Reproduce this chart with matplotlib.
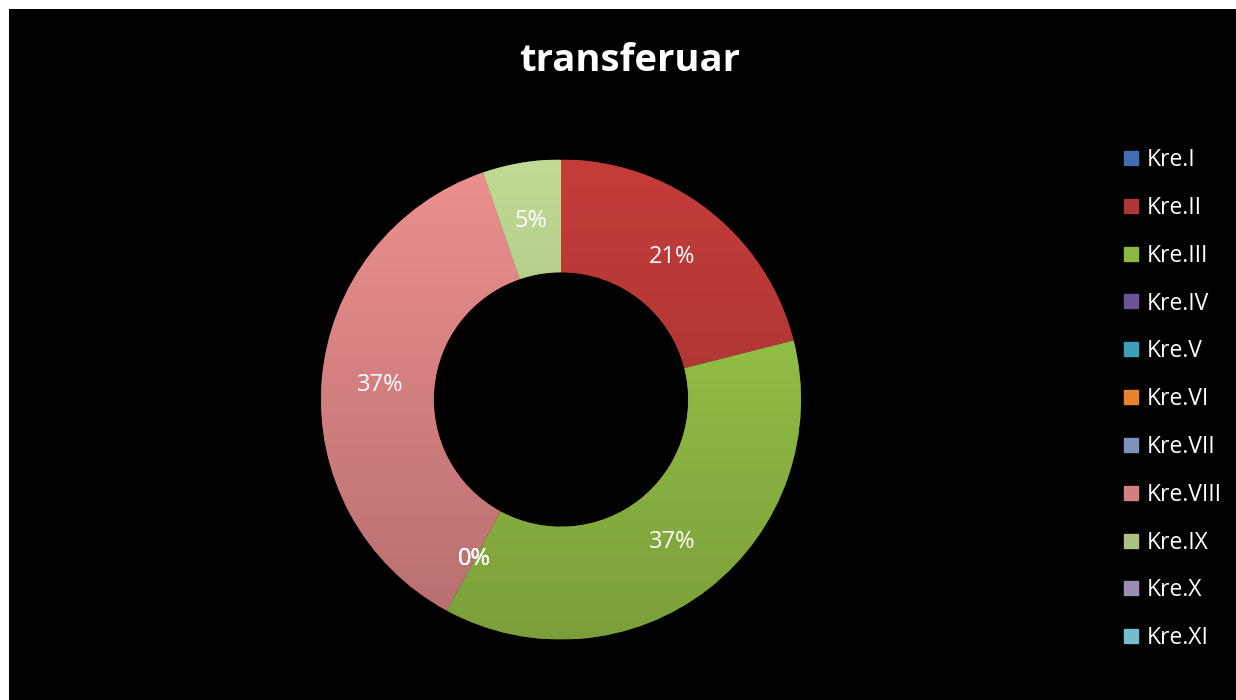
import matplotlib
matplotlib.use("Agg")
import matplotlib.pyplot as plt
from matplotlib.patches import Rectangle
from matplotlib.lines import Line2D
from matplotlib.colors import to_rgb
import numpy as np

# ---- data ----
title = "transferuar"
categories = ["Kre.I", "Kre.II", "Kre.III", "Kre.IV", "Kre.V", "Kre.VI",
              "Kre.VII", "Kre.VIII", "Kre.IX", "Kre.X", "Kre.XI"]
values = [None, 4, 7, 0, 0, 0, 0, 7, 1, None, None]
colors = ["#3E6FB0", "#AE3634", "#8DB743", "#6E5296", "#3AA0BA", "#E8822E",
          "#7F92BC", "#D27F7F", "#ABC283", "#9C8DB6", "#74BCCF"]

W, H = 1236, 700
fig = plt.figure(figsize=(W / 100, H / 100), dpi=100, facecolor="white")
fig.patches.append(Rectangle((9 / W, 0), 1, 1 - 9 / H, transform=fig.transFigure,
                             facecolor="black", edgecolor="none", zorder=-10))

cx, cy, R = 561, 399.5, 240
ax = fig.add_axes([(cx - R) / W, (H - cy - R) / H, 2 * R / W, 2 * R / H])
ax.set_facecolor("none")

vals = [0 if v is None else v for v in values]
wedges, _ = ax.pie(vals, colors=colors, startangle=90, counterclock=False,
                   radius=1, wedgeprops=dict(width=0.47, edgecolor=(0, 0, 0, 0.3), linewidth=1))

# vertical shading (lighter at top, darker at bottom) clipped to each wedge
yy = np.linspace(1, -1, 300)[:, None]
shade = np.clip(1 + 0.13 * yy, 0, 2)
for w, v in zip(wedges, vals):
    if v == 0:
        continue
    base = np.array(to_rgb(w.get_facecolor()[:3]))
    img = np.clip(shade[:, :, None] * base[None, None, :], 0, 1)
    im = ax.imshow(img, extent=(-1, 1, -1, 1), aspect="auto", zorder=w.get_zorder() + 0.1,
                   interpolation="bilinear")
    im.set_clip_path(w)

ax.set_xlim(-1, 1)
ax.set_ylim(-1, 1)
ax.set_aspect("equal")
ax.axis("off")

total = sum(vals)
for w, v in zip(wedges, values):
    if v is None:
        continue
    mid = np.deg2rad((w.theta1 + w.theta2) / 2)
    r = 0.755
    pct = 100 * v / total
    ax.text(r * np.cos(mid), r * np.sin(mid), f"{pct:.0f}%", color="white",
            ha="center", va="center", fontsize=17, family="Open Sans", zorder=10)

fig.text(630 / W, 1 - 61 / H, title, color="white", ha="center", va="center",
         fontsize=27.5, fontweight="bold", family="Open Sans")

handles = [Line2D([0], [0], marker="s", linestyle="none", markersize=10.5,
                  markerfacecolor=c, markeredgecolor=c) for c in colors]
leg = fig.legend(handles, categories, loc="upper left",
                 bbox_to_anchor=(1122 / W, 1 - 148 / H), frameon=False,
                 prop=dict(family="Open Sans", size=16.5), labelcolor="white",
                 labelspacing=1.04, handlelength=0.78, handletextpad=0.32,
                 borderpad=0, borderaxespad=0)

fig.savefig("out.png", dpi=100, facecolor="white")
